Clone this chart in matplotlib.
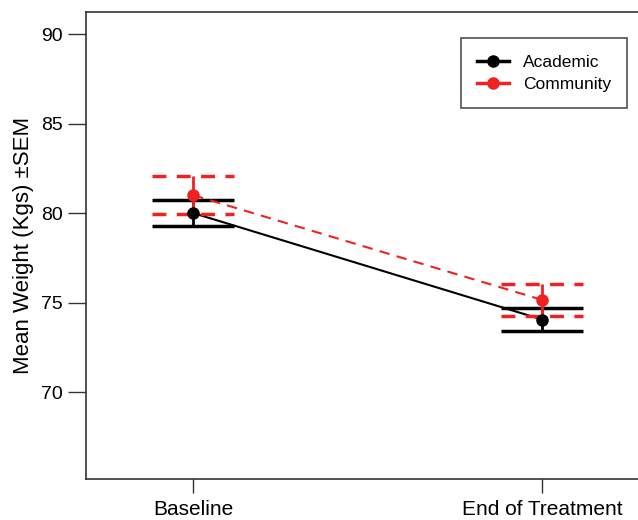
import matplotlib
matplotlib.use("Agg")
import matplotlib.pyplot as plt
import numpy as np
from matplotlib.lines import Line2D

plt.rcParams['font.family'] = ['Liberation Sans', 'DejaVu Sans']

timepoints = ["Baseline", "End of Treatment"]
academic_mean = [80.0, 74.05]
academic_sem = [0.72, 0.62]
community_mean = [81.0, 75.15]
community_sem = [1.05, 0.88]
yticks = [70, 75, 80, 85, 90]

fig = plt.figure(figsize=(6.38, 5.2), dpi=100)
ax = fig.add_axes([86/638, 1 - 479/520, 1 - 86/638, (479 - 12)/520])

x = np.arange(len(timepoints))
capw = 0.117
red = '#ee2222'

# Academic
ax.plot(x, academic_mean, color='black', lw=1.5, zorder=3)
am = np.array(academic_mean); asem = np.array(academic_sem)
ax.vlines(x, am - asem, am + asem, color='black', lw=2, zorder=3)
ax.hlines(np.concatenate([am - asem, am + asem]), np.concatenate([x, x]) - capw,
          np.concatenate([x, x]) + capw, color='black', lw=2.5, zorder=3)
ax.plot(x, academic_mean, 'o', color='black', ms=8, zorder=4)

# Community
cm = np.array(community_mean); csem = np.array(community_sem)
ax.plot(x, community_mean, color=red, lw=1.5, ls=(0, (5, 3.5)), zorder=3)
ax.vlines(x, cm - csem, cm + csem, color=red, lw=2, zorder=3)
ax.hlines(np.concatenate([cm - csem, cm + csem]), np.concatenate([x, x]) - capw,
          np.concatenate([x, x]) + capw, color=red, lw=2.5,
          linestyles=[(0, (4, 3))], zorder=3)
ax.plot(x, community_mean, 'o', color=red, ms=8, zorder=4)

ax.set_xlim(-0.3066, 1.275)
ax.set_ylim(65.14, 91.23)
ax.set_xticks(x)
ax.set_xticklabels(timepoints, fontsize=15)
ax.set_yticks(yticks)
ax.set_yticklabels([str(t) for t in yticks], fontsize=14)
ax.tick_params(axis='y', length=13, width=1, pad=4, color='#333333')
ax.tick_params(axis='x', length=10, width=1, pad=5, color='#333333')
ax.spines['right'].set_visible(False)
for s in ['left', 'top', 'bottom']:
    ax.spines[s].set_linewidth(1.2)
    ax.spines[s].set_color('#333333')
ax.set_ylabel("Mean Weight (Kgs) \u00b1SEM", fontsize=16, labelpad=5)

handles = [Line2D([0], [0], color='black', lw=2.5, marker='o', ms=8),
           Line2D([0], [0], color=red, lw=2.5, marker='o', ms=8)]
leg = ax.legend(handles, ["Academic", "Community"], loc='upper left',
                bbox_to_anchor=((461 - 86) / 552, 1 - (38 - 12) / 467),
                fontsize=12.5, frameon=True, fancybox=False, handlelength=1.8,
                handletextpad=0.8, borderpad=0.95, labelspacing=0.4,
                borderaxespad=0)
leg.get_frame().set_edgecolor('#222222')
leg.get_frame().set_linewidth(1.2)

fig.savefig("out.png", dpi=100)
